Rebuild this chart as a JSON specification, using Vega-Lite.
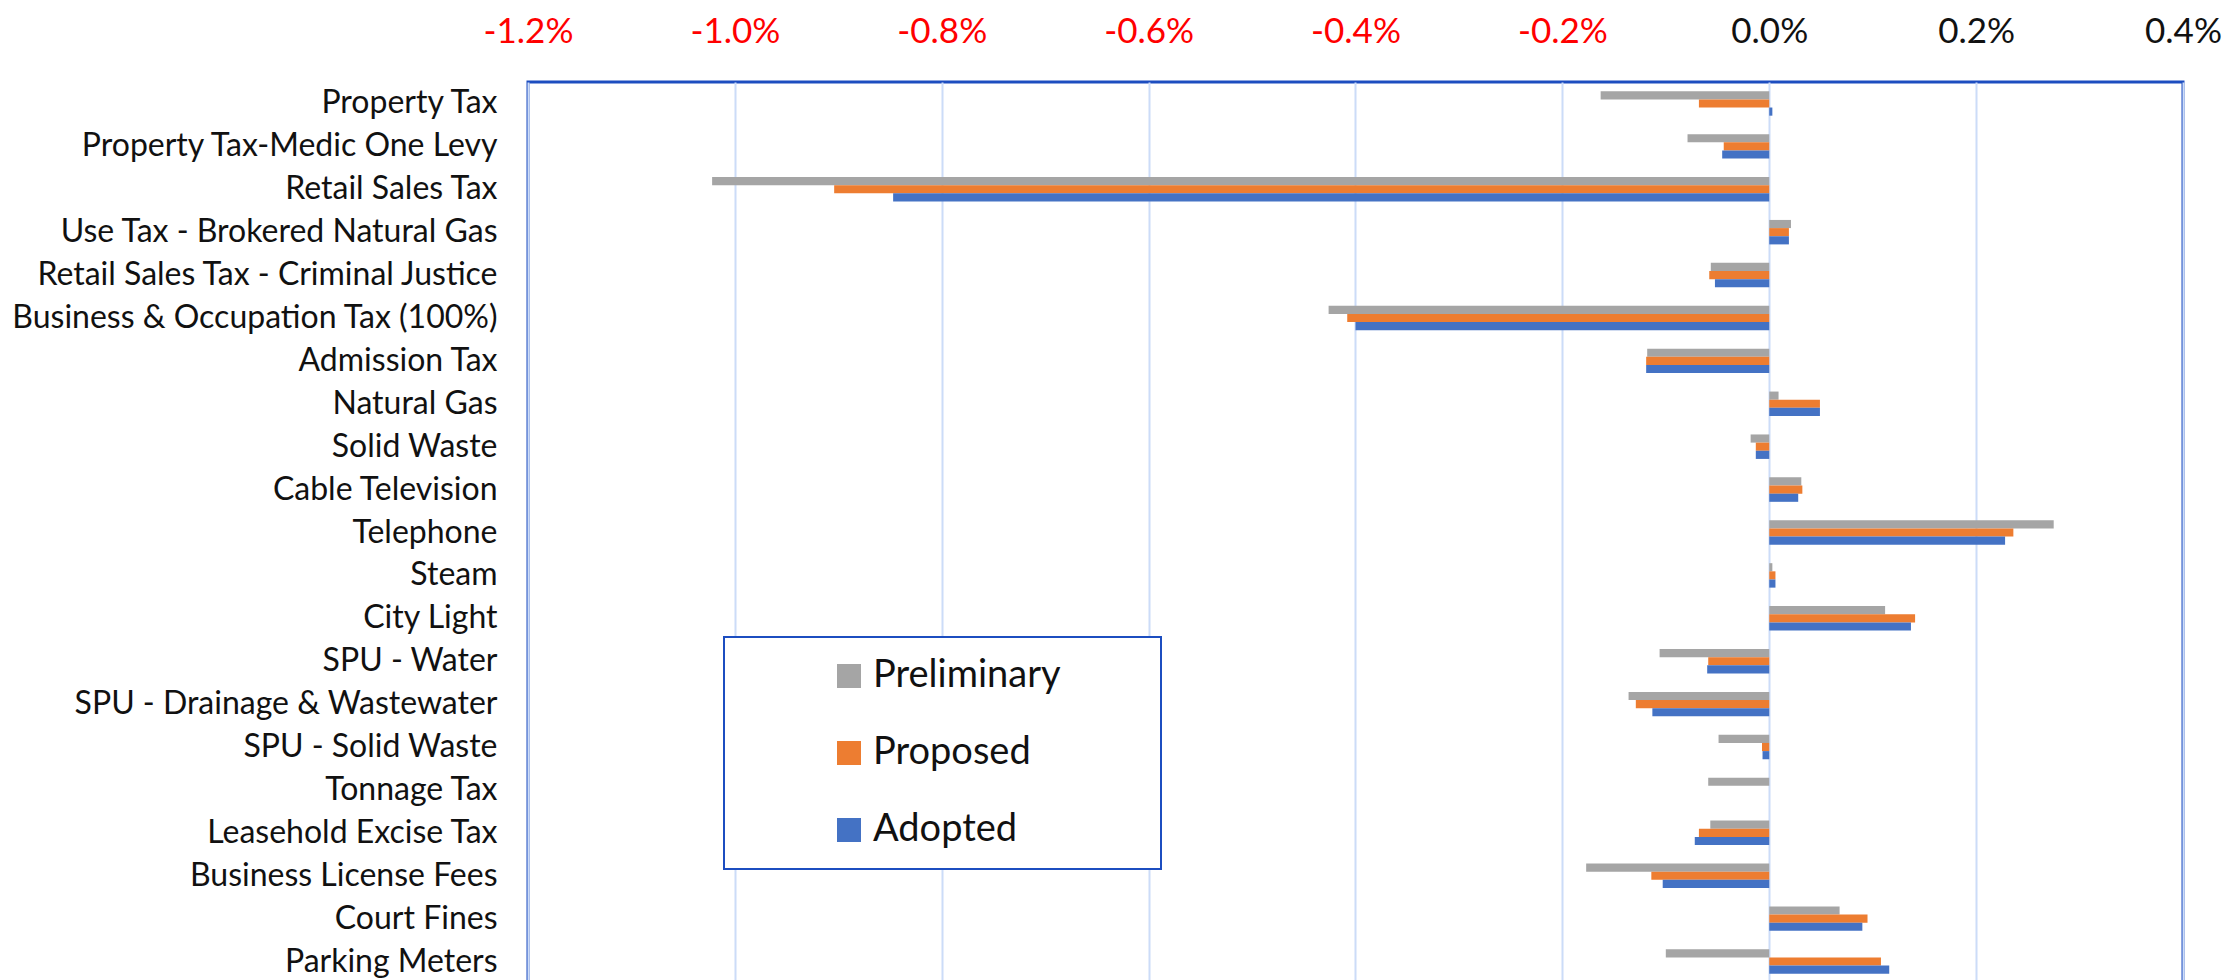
{
  "$schema": "https://vega.github.io/schema/vega-lite/v6.json",
  "width": 1655,
  "height": 901,
  "autosize": {"type": "none"},
  "padding": {"left": 528, "top": 82, "right": 44, "bottom": -3},
  "background": "white",
  "config": {"font": "Lato", "view": {"stroke": "#1C4DC0", "strokeWidth": 3}, "legend": {"strokeWidth": 2}},
  "data": {"values": [
    {"item": "Property Tax", "series": "Preliminary", "pct": -0.163},
    {"item": "Property Tax", "series": "Proposed", "pct": -0.068},
    {"item": "Property Tax", "series": "Adopted", "pct": 0.003},
    {"item": "Property Tax-Medic One Levy", "series": "Preliminary", "pct": -0.079},
    {"item": "Property Tax-Medic One Levy", "series": "Proposed", "pct": -0.044},
    {"item": "Property Tax-Medic One Levy", "series": "Adopted", "pct": -0.0455},
    {"item": "Retail Sales Tax", "series": "Preliminary", "pct": -1.022},
    {"item": "Retail Sales Tax", "series": "Proposed", "pct": -0.904},
    {"item": "Retail Sales Tax", "series": "Adopted", "pct": -0.847},
    {"item": "Use Tax - Brokered Natural Gas", "series": "Preliminary", "pct": 0.021},
    {"item": "Use Tax - Brokered Natural Gas", "series": "Proposed", "pct": 0.019},
    {"item": "Use Tax - Brokered Natural Gas", "series": "Adopted", "pct": 0.019},
    {"item": "Retail Sales Tax  - Criminal Justice", "series": "Preliminary", "pct": -0.0565},
    {"item": "Retail Sales Tax  - Criminal Justice", "series": "Proposed", "pct": -0.058},
    {"item": "Retail Sales Tax  - Criminal Justice", "series": "Adopted", "pct": -0.0525},
    {"item": "Business & Occupation Tax (100%)", "series": "Preliminary", "pct": -0.426},
    {"item": "Business & Occupation Tax (100%)", "series": "Proposed", "pct": -0.408},
    {"item": "Business & Occupation Tax (100%)", "series": "Adopted", "pct": -0.4},
    {"item": "Admission Tax", "series": "Preliminary", "pct": -0.118},
    {"item": "Admission Tax", "series": "Proposed", "pct": -0.119},
    {"item": "Admission Tax", "series": "Adopted", "pct": -0.119},
    {"item": "Natural Gas", "series": "Preliminary", "pct": 0.009},
    {"item": "Natural Gas", "series": "Proposed", "pct": 0.049},
    {"item": "Natural Gas", "series": "Adopted", "pct": 0.049},
    {"item": "Solid Waste", "series": "Preliminary", "pct": -0.018},
    {"item": "Solid Waste", "series": "Proposed", "pct": -0.013},
    {"item": "Solid Waste", "series": "Adopted", "pct": -0.013},
    {"item": "Cable Television", "series": "Preliminary", "pct": 0.031},
    {"item": "Cable Television", "series": "Proposed", "pct": 0.032},
    {"item": "Cable Television", "series": "Adopted", "pct": 0.028},
    {"item": "Telephone", "series": "Preliminary", "pct": 0.275},
    {"item": "Telephone", "series": "Proposed", "pct": 0.236},
    {"item": "Telephone", "series": "Adopted", "pct": 0.228},
    {"item": "Steam", "series": "Preliminary", "pct": 0.003},
    {"item": "Steam", "series": "Proposed", "pct": 0.006},
    {"item": "Steam", "series": "Adopted", "pct": 0.006},
    {"item": "City Light", "series": "Preliminary", "pct": 0.112},
    {"item": "City Light", "series": "Proposed", "pct": 0.141},
    {"item": "City Light", "series": "Adopted", "pct": 0.137},
    {"item": "SPU - Water", "series": "Preliminary", "pct": -0.106},
    {"item": "SPU - Water", "series": "Proposed", "pct": -0.059},
    {"item": "SPU - Water", "series": "Adopted", "pct": -0.06},
    {"item": "SPU - Drainage & Wastewater", "series": "Preliminary", "pct": -0.136},
    {"item": "SPU - Drainage & Wastewater", "series": "Proposed", "pct": -0.129},
    {"item": "SPU - Drainage & Wastewater", "series": "Adopted", "pct": -0.113},
    {"item": "SPU - Solid Waste", "series": "Preliminary", "pct": -0.049},
    {"item": "SPU - Solid Waste", "series": "Proposed", "pct": -0.007},
    {"item": "SPU - Solid Waste", "series": "Adopted", "pct": -0.0065},
    {"item": "Tonnage Tax", "series": "Preliminary", "pct": -0.059},
    {"item": "Tonnage Tax", "series": "Proposed", "pct": 0},
    {"item": "Tonnage Tax", "series": "Adopted", "pct": 0},
    {"item": "Leasehold Excise Tax", "series": "Preliminary", "pct": -0.057},
    {"item": "Leasehold Excise Tax", "series": "Proposed", "pct": -0.068},
    {"item": "Leasehold Excise Tax", "series": "Adopted", "pct": -0.072},
    {"item": "Business License Fees", "series": "Preliminary", "pct": -0.177},
    {"item": "Business License Fees", "series": "Proposed", "pct": -0.114},
    {"item": "Business License Fees", "series": "Adopted", "pct": -0.103},
    {"item": "Court Fines", "series": "Preliminary", "pct": 0.068},
    {"item": "Court Fines", "series": "Proposed", "pct": 0.095},
    {"item": "Court Fines", "series": "Adopted", "pct": 0.09},
    {"item": "Parking Meters", "series": "Preliminary", "pct": -0.1},
    {"item": "Parking Meters", "series": "Proposed", "pct": 0.108},
    {"item": "Parking Meters", "series": "Adopted", "pct": 0.116}
  ]},
  "mark": {"type": "bar"},
  "encoding": {
    "y": {
      "field": "item", "type": "nominal",
      "sort": ["Property Tax", "Property Tax-Medic One Levy", "Retail Sales Tax", "Use Tax - Brokered Natural Gas", "Retail Sales Tax  - Criminal Justice", "Business & Occupation Tax (100%)", "Admission Tax", "Natural Gas", "Solid Waste", "Cable Television", "Telephone", "Steam", "City Light", "SPU - Water", "SPU - Drainage & Wastewater", "SPU - Solid Waste", "Tonnage Tax", "Leasehold Excise Tax", "Business License Fees", "Court Fines", "Parking Meters"],
      "scale": {"paddingInner": 0.43, "paddingOuter": 0.215},
      "axis": {"title": null, "orient": "left", "ticks": false, "domain": false, "grid": false, "labelFontSize": 32, "labelColor": "#111111", "labelPadding": 31, "labelLimit": 1000, "labelFont": "Lato"}
    },
    "yOffset": {
      "field": "series", "type": "nominal",
      "sort": ["Preliminary", "Proposed", "Adopted"],
      "scale": {"paddingInner": 0, "paddingOuter": 0}
    },
    "x": {
      "field": "pct", "type": "quantitative",
      "scale": {"domain": [-1.2, 0.4], "nice": false},
      "axis": {
        "orient": "top", "title": null,
        "values": [-1.2, -1.0, -0.8, -0.6, -0.4, -0.2, 0, 0.2, 0.4],
        "labelExpr": "(datum.value < 0 ? '-' : '') + format(abs(datum.value), '.1f') + '%'",
        "labelColor": {"condition": {"test": "datum.value < 0", "value": "#FF0000"}, "value": "#111111"},
        "labelFontSize": 35, "labelFont": "Lato", "labelBaseline": "alphabetic", "labelPadding": 40,
        "labelFlush": false, "labelOverlap": false, "labelBound": false,
        "ticks": false, "domain": false, "grid": true, "gridColor": "#CCDCF8", "gridWidth": 2
      }
    },
    "color": {
      "field": "series", "type": "nominal",
      "sort": ["Preliminary", "Proposed", "Adopted"],
      "scale": {"domain": ["Preliminary", "Proposed", "Adopted"], "range": ["#A5A5A5", "#ED7D31", "#4472C4"]},
      "legend": {
        "orient": "none", "legendX": 196, "legendY": 555,
        "title": " ", "titleOrient": "right", "titleFontSize": 1, "titlePadding": 80,
        "symbolType": "square", "symbolSize": 576, "symbolStrokeWidth": 0, "symbolOffset": 86,
        "labelFontSize": 38, "labelFont": "Lato", "labelOffset": 5, "labelColor": "#111111", "labelLimit": 500,
        "rowPadding": 39, "padding": 20, "strokeColor": "#1C4DC0", "fillColor": "white"
      }
    }
  }
}
